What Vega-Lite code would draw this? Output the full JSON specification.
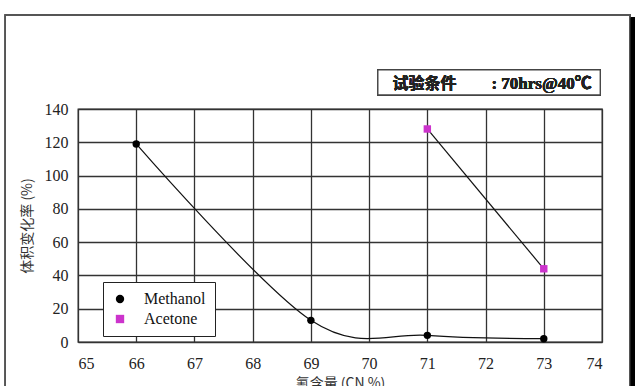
{
  "$schema": "https://vega.github.io/schema/vega-lite/v6.json",
  "width": 524,
  "height": 233,
  "autosize": "none",
  "padding": {"left": 78, "top": 109, "right": 38, "bottom": 44},
  "background": "white",
  "config": {
    "view": {"stroke": "#333", "strokeWidth": 1.3},
    "axis": {
      "grid": true,
      "gridColor": "#333",
      "gridWidth": 1.3,
      "gridOpacity": 1,
      "domain": false,
      "ticks": false
    }
  },
  "data": {
    "values": [
      {"series": "Methanol", "cn": 66, "change": 119},
      {"series": "Methanol", "cn": 69, "change": 13},
      {"series": "Methanol", "cn": 71, "change": 4},
      {"series": "Methanol", "cn": 73, "change": 2},
      {"series": "Acetone", "cn": 71, "change": 128},
      {"series": "Acetone", "cn": 73, "change": 44}
    ]
  },
  "encoding": {
    "x": {
      "field": "cn", "type": "quantitative",
      "scale": {"domain": [65, 74], "nice": false, "zero": false},
      "axis": {
        "values": [65, 66, 67, 68, 69, 70, 71, 72, 73, 74], "labelPadding": 13,
        "labelFont": "Liberation Serif", "labelFontSize": 16, "labelColor": "#222",
        "title": "氰含量 (CN %)", "titlePadding": 5,
        "titleFont": "Noto Sans CJK SC", "titleFontSize": 14, "titleFontWeight": "normal", "titleColor": "#333"
      }
    },
    "y": {
      "field": "change", "type": "quantitative",
      "scale": {"domain": [0, 140], "nice": false},
      "axis": {
        "values": [0, 20, 40, 60, 80, 100, 120, 140], "labelPadding": 10,
        "labelFont": "Liberation Serif", "labelFontSize": 16, "labelColor": "#222",
        "title": "体积变化率 (%)", "titlePadding": 10,
        "titleFont": "Noto Sans CJK SC", "titleFontSize": 14, "titleFontWeight": "normal", "titleColor": "#333"
      }
    }
  },
  "layer": [
    {
      "mark": {"type": "rect", "fill": null, "fillOpacity": 0, "stroke": "#555", "strokeWidth": 1.2, "clip": false},
      "encoding": {
        "x": {"datum": 63.75, "type": "quantitative"},
        "x2": {"datum": 74.48},
        "y": {"datum": 196.5, "type": "quantitative"},
        "y2": {"datum": -40}
      }
    },
    {
      "mark": {"type": "rule", "stroke": "black", "strokeWidth": 4, "clip": false},
      "encoding": {
        "x": {"datum": 74.53, "type": "quantitative"},
        "y": {"datum": 195, "type": "quantitative"},
        "y2": {"datum": -40}
      }
    },
    {
      "mark": {"type": "rect", "fill": "white", "stroke": "#444", "strokeWidth": 1.3, "clip": false},
      "encoding": {
        "x": {"datum": 70.15, "type": "quantitative"},
        "x2": {"datum": 73.97},
        "y": {"datum": 163.5, "type": "quantitative"},
        "y2": {"datum": 148.4}
      }
    },
    {
      "mark": {"type": "text", "text": "试验条件", "align": "left", "baseline": "middle", "font": "Noto Sans CJK SC", "fontSize": 16, "fontWeight": "bold", "color": "#222", "clip": false},
      "encoding": {
        "x": {"datum": 70.4, "type": "quantitative"},
        "y": {"datum": 155, "type": "quantitative"}
      }
    },
    {
      "mark": {"type": "text", "text": ": 70hrs@40℃", "align": "left", "baseline": "middle", "font": "Liberation Serif, Noto Sans CJK SC", "fontSize": 17, "fontWeight": "bold", "color": "#222", "clip": false},
      "encoding": {
        "x": {"datum": 72.1, "type": "quantitative"},
        "y": {"datum": 155, "type": "quantitative"}
      }
    },
    {
      "mark": {"type": "line", "interpolate": "cardinal", "color": "#111", "strokeWidth": 1.2},
      "encoding": {"detail": {"field": "series"}}
    },
    {
      "mark": {"type": "point", "filled": true, "opacity": 1},
      "encoding": {
        "color": {
          "field": "series", "type": "nominal",
          "scale": {"domain": ["Methanol", "Acetone"], "range": ["#000000", "#cc33cc"]},
          "legend": {
            "title": null, "orient": "none", "legendX": 25, "legendY": 173,
            "strokeColor": "#222", "fillColor": "white", "padding": 9,
            "labelFont": "Liberation Serif", "labelFontSize": 16, "labelColor": "#111",
            "symbolSize": 70, "labelOffset": 16, "rowPadding": 4,
            "symbolStrokeWidth": 0
          }
        },
        "shape": {
          "field": "series", "type": "nominal",
          "scale": {"domain": ["Methanol", "Acetone"], "range": ["circle", "square"]},
          "legend": null
        },
        "size": {"value": 55}
      }
    }
  ]
}
